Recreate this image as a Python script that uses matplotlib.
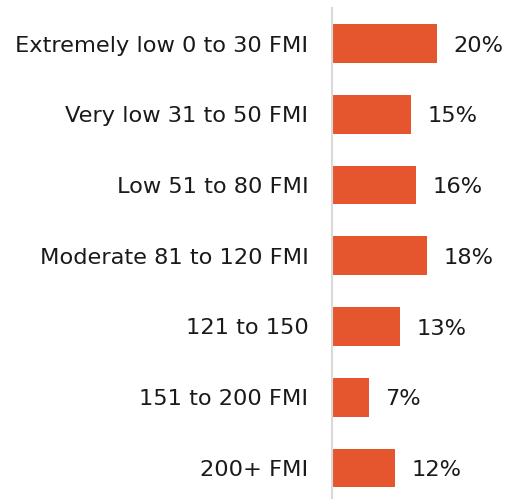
import matplotlib
matplotlib.use("Agg")
import matplotlib.pyplot as plt

categories = ["Extremely low 0 to 30 FMI", "Very low 31 to 50 FMI", "Low 51 to 80 FMI",
              "Moderate 81 to 120 FMI", "121 to 150", "151 to 200 FMI", "200+ FMI"]
values = [20, 15, 16, 18, 13, 7, 12]
value_labels = ["20%", "15%", "16%", "18%", "13%", "7%", "12%"]

W, H = 509, 499
fig = plt.figure(figsize=(W / 100, H / 100), dpi=100)
ax_left = 332 / W
ax_top = 8 / H
ax = fig.add_axes([ax_left, 0, 1 - ax_left, 1 - ax_top])

bar_color = "#E5562F"
pos = list(range(len(categories)))
ax.barh(pos, values, height=0.55, color=bar_color)

spacing = 70.75
top_lim = -(43.5 - 8) / spacing
bot_lim = (499 - 43.5) / spacing
ax.set_ylim(bot_lim, top_lim)
px_per_unit = 5.25
ax.set_xlim(0, (W - 332) / px_per_unit)

fs = 16.2
ax.set_yticks(pos)
ax.set_yticklabels(categories, fontsize=fs, color="#1a1a1a")
ax.tick_params(axis="y", length=0, pad=17)
ax.set_xticks([])
for s in ["top", "right", "bottom"]:
    ax.spines[s].set_visible(False)
ax.spines["left"].set_color("#d9d9d9")
ax.spines["left"].set_linewidth(1.5)

for p, v, lab in zip(pos, values, value_labels):
    ax.annotate(lab, xy=(v, p), xytext=(12, -1.5), textcoords="offset points",
                va="center", ha="left", fontsize=fs, color="#1a1a1a")

fig.savefig("out.png", dpi=100)
